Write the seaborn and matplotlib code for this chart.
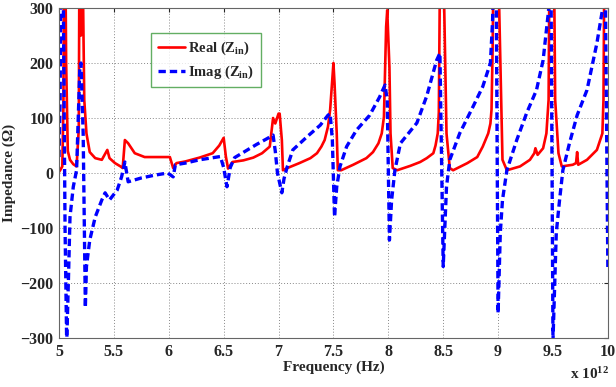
import numpy as np
import pandas as pd
import matplotlib
matplotlib.use("Agg")
import matplotlib.pyplot as plt
import seaborn as sns

# Frequency in units of 1e12 Hz
real_f = [5.00, 5.01, 5.03, 5.04, 5.05, 5.065, 5.08, 5.10, 5.13, 5.16, 5.18, 5.19, 5.20, 5.21,
          5.22, 5.23, 5.25, 5.28, 5.33, 5.39, 5.44, 5.46, 5.51, 5.56, 5.58, 5.60, 5.63, 5.69,
          5.78, 5.87, 6.01, 6.04, 6.07, 6.15, 6.28, 6.40, 6.46, 6.50, 6.52, 6.54, 6.58, 6.68,
          6.77, 6.85, 6.92, 6.95, 6.97, 7.00, 7.01, 7.03, 7.04, 7.08, 7.19, 7.29, 7.35, 7.39,
          7.42, 7.45, 7.47, 7.50, 7.51, 7.53, 7.54, 7.57, 7.68, 7.80, 7.86, 7.91, 7.94, 7.96,
          7.98, 7.99, 8.01, 8.02, 8.04, 8.08, 8.20, 8.29, 8.35, 8.41, 8.43, 8.45, 8.46, 8.48,
          8.50, 8.53, 8.56, 8.59, 8.72, 8.81, 8.86, 8.91, 8.93, 8.94, 8.95, 8.97, 8.99, 9.01,
          9.04, 9.08, 9.20, 9.29, 9.33, 9.34, 9.36, 9.41, 9.44, 9.46, 9.475, 9.50, 9.52, 9.55,
          9.58, 9.68, 9.71, 9.72, 9.73, 9.81, 9.90, 9.95, 9.96, 9.975, 10.0]
real_z = [2, 5, 12, 120, 600, 200, 40, 24, 16, 12, 80, 600, 250, 600,
          300, 133, 72, 38, 27, 24, 42, 27, 18, 12, 9, 60, 54, 36,
          29, 29, 29, 9, 18, 21, 28, 36, 50, 64, 30, 8, 20, 23,
          28, 36, 48, 100, 90, 108, 108, 60, 5, 9, 18, 27, 36, 48,
          60, 84, 115, 200, 163, 72, 5, 5, 15, 27, 38, 54, 72, 102,
          266, 296, 193, 72, 9, 5, 13, 20, 27, 36, 50, 72, 110, 600,
          400, 72, 9, 5, 18, 29, 48, 72, 90, 115, 223, 600, 600, 300,
          24, 5, 12, 24, 36, 45, 33, 45, 72, 133, 600, 600, 133, 36,
          12, 15, 18, 38, 15, 24, 42, 72, 133, 600, 600]

imag_f = [5.00, 5.01, 5.025, 5.04, 5.055, 5.07, 5.085, 5.10, 5.13, 5.16, 5.19, 5.20, 5.22,
          5.24, 5.25, 5.28, 5.33, 5.39, 5.42, 5.46, 5.53, 5.57, 5.60, 5.63, 5.75, 5.87, 5.99,
          6.04, 6.06, 6.15, 6.28, 6.47, 6.50, 6.53, 6.56, 6.60, 6.70, 6.80, 6.90, 6.95, 6.97,
          6.99, 7.03, 7.05, 7.08, 7.13, 7.26, 7.38, 7.45, 7.47, 7.49, 7.51, 7.53, 7.56, 7.62,
          7.71, 7.83, 7.92, 7.97, 7.99, 8.01, 8.03, 8.06, 8.11, 8.26, 8.35, 8.44, 8.47, 8.50,
          8.53, 8.56, 8.65, 8.77, 8.86, 8.93, 8.95, 8.975, 9.00, 9.02, 9.04, 9.08, 9.17, 9.26,
          9.35, 9.41, 9.46, 9.475, 9.50, 9.53, 9.56, 9.59, 9.65, 9.72, 9.81, 9.90, 9.95, 9.965,
          10.0]
imag_z = [29, 133, 600, 300, -100, -310, -200, -80, -25, 5, 193, 200, 72,
          -245, -170, -122, -80, -49, -36, -49, -31, -7, 20, -16, -9, -4, 0,
          -7, 15, 18, 24, 30, 10, -25, 10, 28, 40, 52, 63, 69, 40,
          0, -36, -10, 12, 42, 66, 87, 105, 108, 60, -80, -25, 12, 48,
          78, 105, 138, 160, 133, -122, -49, 5, 54, 91, 140, 205, 218, -170,
          -25, 24, 72, 120, 157, 200, 278, 600, -255, -109, -49, 5, 60, 109,
          151, 205, 296, 600, -305, -109, -49, 5, 54, 105, 151, 236, 296, 600,
          -176]

x_ticks = [5, 5.5, 6, 6.5, 7, 7.5, 8, 8.5, 9, 9.5, 10]
x_tick_labels = ["5", "5.5", "6", "6.5", "7", "7.5", "8", "8.5", "9", "9.5", "10"]
y_ticks = [-300, -200, -100, 0, 100, 200, 300]

sns.set_style("white")
plt.rcParams['font.family'] = ['Liberation Serif', 'DejaVu Serif']
plt.rcParams['font.weight'] = 'bold'
plt.rcParams['mathtext.fontset'] = 'custom'
plt.rcParams['mathtext.rm'] = 'Liberation Serif:bold'
plt.rcParams['mathtext.bf'] = 'Liberation Serif:bold'
plt.rcParams['mathtext.it'] = 'Liberation Serif:bold'
plt.rcParams['mathtext.default'] = 'bf'

fig = plt.figure(figsize=(6.16, 3.87), dpi=100)
ax = fig.add_axes([0.0958, 0.1266, 0.891, 0.8527])

df_r = pd.DataFrame({"f": real_f, "z": real_z})
df_i = pd.DataFrame({"f": imag_f, "z": imag_z})
sns.lineplot(data=df_r, x="f", y="z", ax=ax, color="#ff0000", linewidth=1.9, sort=False,
             label=r"Real (Z$_{\mathbf{in}}$)")
sns.lineplot(data=df_i, x="f", y="z", ax=ax, color="#0000ff", linewidth=2.4, sort=False,
             label=r"Imag (Z$_{\mathbf{in}}$)")
ax.lines[1].set_linestyle((0, (2.2, 1.2)))

ax.set_xlim(5, 10)
ax.set_ylim(-300, 300)
ax.set_xticks(x_ticks)
ax.set_xticklabels(x_tick_labels)
ax.set_yticks(y_ticks)
ax.tick_params(direction="in", top=True, right=True, labelsize=11.5, length=3, width=0.8, pad=4)
for lab in ax.get_xticklabels() + ax.get_yticklabels():
    lab.set_fontweight("bold")
ax.grid(True, linestyle=(0, (1, 2)), color="#888888", linewidth=0.7)
for s in ax.spines.values():
    s.set_color("#666666")
    s.set_linewidth(0.8)

ax.set_xlabel("Frequency (Hz)", fontsize=11, fontweight="bold", labelpad=1)
ax.set_ylabel("Impedance (Ω)", fontsize=11, fontweight="bold", labelpad=3)

leg = ax.legend(loc="upper left", bbox_to_anchor=(0.168, 0.924), borderaxespad=0,
                fontsize=10.5, frameon=True, fancybox=False, handlelength=1.85,
                borderpad=0.45, labelspacing=0.45, handletextpad=0.25)
leg.get_frame().set_edgecolor("#3c9a3c")
leg.get_frame().set_linewidth(1.0)
for t in leg.get_texts():
    t.set_fontweight("bold")

fig.text(0.988, 0.012, r"x 10$^{12}$", ha="right", va="bottom", fontsize=11, fontweight="bold")

fig.savefig("out.png", dpi=100)
